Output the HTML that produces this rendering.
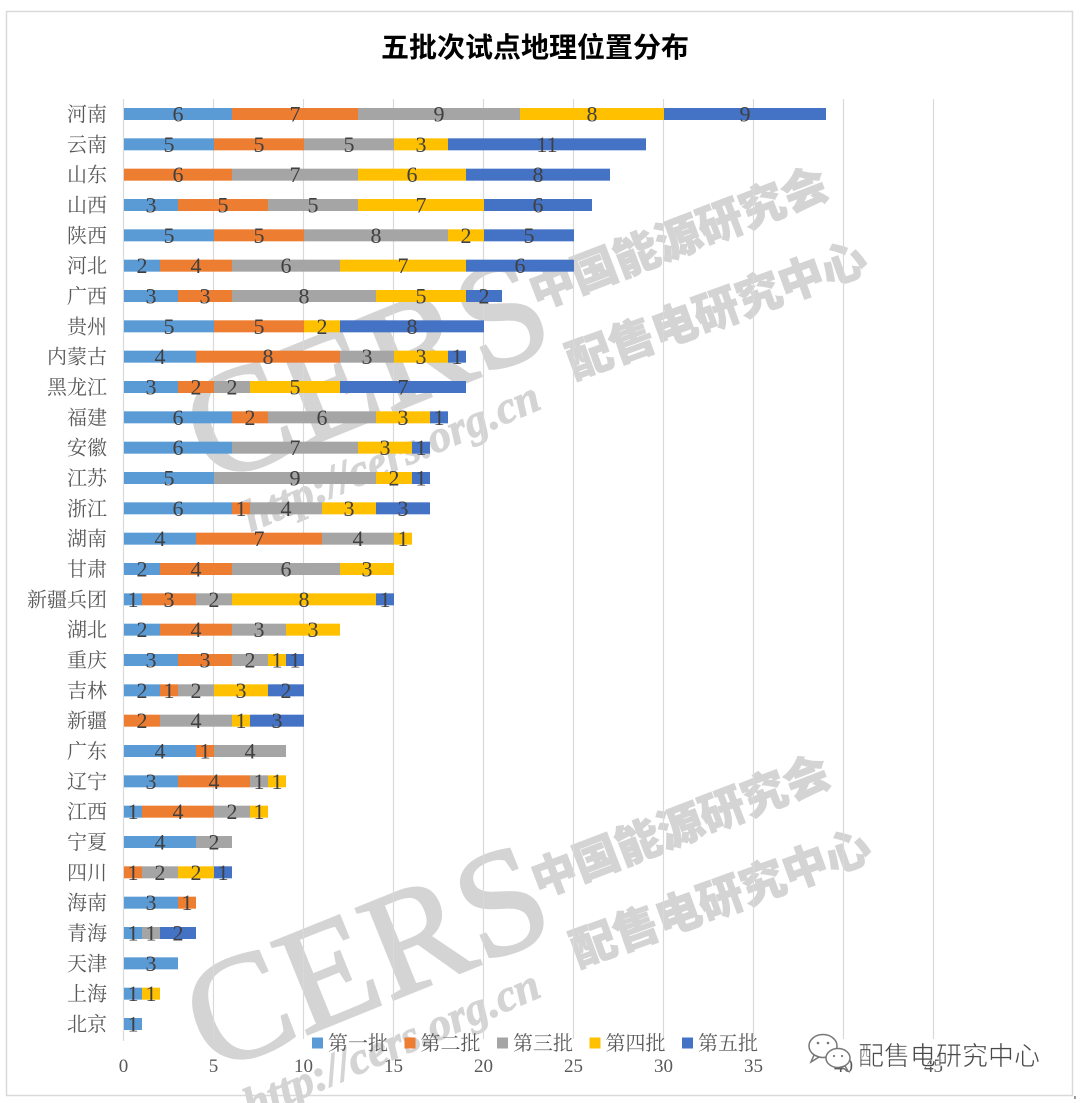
<!DOCTYPE html>
<html>
<head>
<meta charset="utf-8">
<style>
html,body{margin:0;padding:0;background:#fff;}
svg{display:block;}
.s1{fill:#5B9BD5}.s2{fill:#ED7D31}.s3{fill:#A5A5A5}.s4{fill:#FFC000}.s5{fill:#4472C4}
.cat{font-family:"Liberation Serif","Noto Serif CJK SC",serif;font-size:20px;fill:#595959;text-anchor:end;}
.dl{font-family:"Liberation Serif","Noto Serif CJK SC",serif;font-size:22px;fill:#404040;text-anchor:middle;}
.tk{font-family:"Liberation Serif",serif;font-size:19px;fill:#595959;text-anchor:middle;}
.lg{font-family:"Liberation Serif","Noto Serif CJK SC",serif;font-size:20px;fill:#595959;}
</style>
</head>
<body>
<svg width="1080" height="1103" viewBox="0 0 1080 1103" xmlns="http://www.w3.org/2000/svg">
<rect x="0" y="0" width="1080" height="1103" fill="#fff"/>
<rect x="6.5" y="11.5" width="1066" height="1084" fill="#fff" stroke="#d9d9d9" stroke-width="1.5"/>

<text x="535" y="57" text-anchor="middle" style="font-family:'Liberation Sans','Noto Sans CJK SC',sans-serif;font-size:28px;font-weight:bold;fill:#000;">五批次试点地理位置分布</text>

<!-- watermarks (behind chart) -->
<g fill="#d4d4d4" stroke="#d4d4d4">
<text transform="translate(385,415) rotate(-22)" text-anchor="middle" stroke-width="2.5" style="font-family:'Liberation Serif',serif;font-size:150px;">CERS</text>
<text transform="translate(397,470) rotate(-23)" text-anchor="middle" stroke-width="1" style="font-family:'Liberation Serif',serif;font-size:45px;font-weight:bold;font-style:italic;">http://cers.org.cn</text>
<text transform="translate(684,253) rotate(-21)" text-anchor="middle" stroke-width="1" style="font-family:'Liberation Sans','Noto Sans CJK SC',sans-serif;font-size:45px;font-weight:900;">中国能源研究会</text>
<text transform="translate(722,325) rotate(-20)" text-anchor="middle" stroke-width="1" style="font-family:'Liberation Sans','Noto Sans CJK SC',sans-serif;font-size:45px;font-weight:900;">配售电研究中心</text>

<text transform="translate(385,1003) rotate(-22)" text-anchor="middle" stroke-width="2.5" style="font-family:'Liberation Serif',serif;font-size:150px;">CERS</text>
<text transform="translate(397,1058) rotate(-23)" text-anchor="middle" stroke-width="1" style="font-family:'Liberation Serif',serif;font-size:45px;font-weight:bold;font-style:italic;">http://cers.org.cn</text>
<text transform="translate(686,841) rotate(-21)" text-anchor="middle" stroke-width="1" style="font-family:'Liberation Sans','Noto Sans CJK SC',sans-serif;font-size:45px;font-weight:900;">中国能源研究会</text>
<text transform="translate(726,913) rotate(-20)" text-anchor="middle" stroke-width="1" style="font-family:'Liberation Sans','Noto Sans CJK SC',sans-serif;font-size:45px;font-weight:900;">配售电研究中心</text>
</g>

<!-- gridlines -->
<g stroke="#d9d9d9" stroke-width="1.2">
<line x1="213.5" y1="99" x2="213.5" y2="1039"/>
<line x1="303.5" y1="99" x2="303.5" y2="1039"/>
<line x1="393.5" y1="99" x2="393.5" y2="1039"/>
<line x1="483.5" y1="99" x2="483.5" y2="1039"/>
<line x1="573.5" y1="99" x2="573.5" y2="1039"/>
<line x1="663.5" y1="99" x2="663.5" y2="1039"/>
<line x1="753.5" y1="99" x2="753.5" y2="1039"/>
<line x1="843.5" y1="99" x2="843.5" y2="1039"/>
<line x1="933.5" y1="99" x2="933.5" y2="1039"/>
<line x1="123.5" y1="99" x2="123.5" y2="1041"/>
</g>

<!-- rows -->
<g transform="translate(0,114)"><text class="cat" x="107" y="7">河南</text>
<rect class="s1" x="124" y="-6" width="108" height="12"/><rect class="s2" x="232" y="-6" width="126" height="12"/><rect class="s3" x="358" y="-6" width="162" height="12"/><rect class="s4" x="520" y="-6" width="144" height="12"/><rect class="s5" x="664" y="-6" width="162" height="12"/>
<text class="dl" x="178" y="7.5">6</text><text class="dl" x="295" y="7.5">7</text><text class="dl" x="439" y="7.5">9</text><text class="dl" x="592" y="7.5">8</text><text class="dl" x="745" y="7.5">9</text></g>

<g transform="translate(0,144.33)"><text class="cat" x="107" y="7">云南</text>
<rect class="s1" x="124" y="-6" width="90" height="12"/><rect class="s2" x="214" y="-6" width="90" height="12"/><rect class="s3" x="304" y="-6" width="90" height="12"/><rect class="s4" x="394" y="-6" width="54" height="12"/><rect class="s5" x="448" y="-6" width="198" height="12"/>
<text class="dl" x="169" y="7.5">5</text><text class="dl" x="259" y="7.5">5</text><text class="dl" x="349" y="7.5">5</text><text class="dl" x="421" y="7.5">3</text><text class="dl" x="547" y="7.5">11</text></g>

<g transform="translate(0,174.67)"><text class="cat" x="107" y="7">山东</text>
<rect class="s2" x="124" y="-6" width="108" height="12"/><rect class="s3" x="232" y="-6" width="126" height="12"/><rect class="s4" x="358" y="-6" width="108" height="12"/><rect class="s5" x="466" y="-6" width="144" height="12"/>
<text class="dl" x="178" y="7.5">6</text><text class="dl" x="295" y="7.5">7</text><text class="dl" x="412" y="7.5">6</text><text class="dl" x="538" y="7.5">8</text></g>

<g transform="translate(0,205)"><text class="cat" x="107" y="7">山西</text>
<rect class="s1" x="124" y="-6" width="54" height="12"/><rect class="s2" x="178" y="-6" width="90" height="12"/><rect class="s3" x="268" y="-6" width="90" height="12"/><rect class="s4" x="358" y="-6" width="126" height="12"/><rect class="s5" x="484" y="-6" width="108" height="12"/>
<text class="dl" x="151" y="7.5">3</text><text class="dl" x="223" y="7.5">5</text><text class="dl" x="313" y="7.5">5</text><text class="dl" x="421" y="7.5">7</text><text class="dl" x="538" y="7.5">6</text></g>

<g transform="translate(0,235.33)"><text class="cat" x="107" y="7">陕西</text>
<rect class="s1" x="124" y="-6" width="90" height="12"/><rect class="s2" x="214" y="-6" width="90" height="12"/><rect class="s3" x="304" y="-6" width="144" height="12"/><rect class="s4" x="448" y="-6" width="36" height="12"/><rect class="s5" x="484" y="-6" width="90" height="12"/>
<text class="dl" x="169" y="7.5">5</text><text class="dl" x="259" y="7.5">5</text><text class="dl" x="376" y="7.5">8</text><text class="dl" x="466" y="7.5">2</text><text class="dl" x="529" y="7.5">5</text></g>

<g transform="translate(0,265.67)"><text class="cat" x="107" y="7">河北</text>
<rect class="s1" x="124" y="-6" width="36" height="12"/><rect class="s2" x="160" y="-6" width="72" height="12"/><rect class="s3" x="232" y="-6" width="108" height="12"/><rect class="s4" x="340" y="-6" width="126" height="12"/><rect class="s5" x="466" y="-6" width="108" height="12"/>
<text class="dl" x="142" y="7.5">2</text><text class="dl" x="196" y="7.5">4</text><text class="dl" x="286" y="7.5">6</text><text class="dl" x="403" y="7.5">7</text><text class="dl" x="520" y="7.5">6</text></g>

<g transform="translate(0,296)"><text class="cat" x="107" y="7">广西</text>
<rect class="s1" x="124" y="-6" width="54" height="12"/><rect class="s2" x="178" y="-6" width="54" height="12"/><rect class="s3" x="232" y="-6" width="144" height="12"/><rect class="s4" x="376" y="-6" width="90" height="12"/><rect class="s5" x="466" y="-6" width="36" height="12"/>
<text class="dl" x="151" y="7.5">3</text><text class="dl" x="205" y="7.5">3</text><text class="dl" x="304" y="7.5">8</text><text class="dl" x="421" y="7.5">5</text><text class="dl" x="484" y="7.5">2</text></g>

<g transform="translate(0,326.33)"><text class="cat" x="107" y="7">贵州</text>
<rect class="s1" x="124" y="-6" width="90" height="12"/><rect class="s2" x="214" y="-6" width="90" height="12"/><rect class="s4" x="304" y="-6" width="36" height="12"/><rect class="s5" x="340" y="-6" width="144" height="12"/>
<text class="dl" x="169" y="7.5">5</text><text class="dl" x="259" y="7.5">5</text><text class="dl" x="322" y="7.5">2</text><text class="dl" x="412" y="7.5">8</text></g>

<g transform="translate(0,356.67)"><text class="cat" x="107" y="7">内蒙古</text>
<rect class="s1" x="124" y="-6" width="72" height="12"/><rect class="s2" x="196" y="-6" width="144" height="12"/><rect class="s3" x="340" y="-6" width="54" height="12"/><rect class="s4" x="394" y="-6" width="54" height="12"/><rect class="s5" x="448" y="-6" width="18" height="12"/>
<text class="dl" x="160" y="7.5">4</text><text class="dl" x="268" y="7.5">8</text><text class="dl" x="367" y="7.5">3</text><text class="dl" x="421" y="7.5">3</text><text class="dl" x="457" y="7.5">1</text></g>

<g transform="translate(0,387)"><text class="cat" x="107" y="7">黑龙江</text>
<rect class="s1" x="124" y="-6" width="54" height="12"/><rect class="s2" x="178" y="-6" width="36" height="12"/><rect class="s3" x="214" y="-6" width="36" height="12"/><rect class="s4" x="250" y="-6" width="90" height="12"/><rect class="s5" x="340" y="-6" width="126" height="12"/>
<text class="dl" x="151" y="7.5">3</text><text class="dl" x="196" y="7.5">2</text><text class="dl" x="232" y="7.5">2</text><text class="dl" x="295" y="7.5">5</text><text class="dl" x="403" y="7.5">7</text></g>

<g transform="translate(0,417.33)"><text class="cat" x="107" y="7">福建</text>
<rect class="s1" x="124" y="-6" width="108" height="12"/><rect class="s2" x="232" y="-6" width="36" height="12"/><rect class="s3" x="268" y="-6" width="108" height="12"/><rect class="s4" x="376" y="-6" width="54" height="12"/><rect class="s5" x="430" y="-6" width="18" height="12"/>
<text class="dl" x="178" y="7.5">6</text><text class="dl" x="250" y="7.5">2</text><text class="dl" x="322" y="7.5">6</text><text class="dl" x="403" y="7.5">3</text><text class="dl" x="439" y="7.5">1</text></g>

<g transform="translate(0,447.67)"><text class="cat" x="107" y="7">安徽</text>
<rect class="s1" x="124" y="-6" width="108" height="12"/><rect class="s3" x="232" y="-6" width="126" height="12"/><rect class="s4" x="358" y="-6" width="54" height="12"/><rect class="s5" x="412" y="-6" width="18" height="12"/>
<text class="dl" x="178" y="7.5">6</text><text class="dl" x="295" y="7.5">7</text><text class="dl" x="385" y="7.5">3</text><text class="dl" x="421" y="7.5">1</text></g>

<g transform="translate(0,478)"><text class="cat" x="107" y="7">江苏</text>
<rect class="s1" x="124" y="-6" width="90" height="12"/><rect class="s3" x="214" y="-6" width="162" height="12"/><rect class="s4" x="376" y="-6" width="36" height="12"/><rect class="s5" x="412" y="-6" width="18" height="12"/>
<text class="dl" x="169" y="7.5">5</text><text class="dl" x="295" y="7.5">9</text><text class="dl" x="394" y="7.5">2</text><text class="dl" x="421" y="7.5">1</text></g>

<g transform="translate(0,508.33)"><text class="cat" x="107" y="7">浙江</text>
<rect class="s1" x="124" y="-6" width="108" height="12"/><rect class="s2" x="232" y="-6" width="18" height="12"/><rect class="s3" x="250" y="-6" width="72" height="12"/><rect class="s4" x="322" y="-6" width="54" height="12"/><rect class="s5" x="376" y="-6" width="54" height="12"/>
<text class="dl" x="178" y="7.5">6</text><text class="dl" x="241" y="7.5">1</text><text class="dl" x="286" y="7.5">4</text><text class="dl" x="349" y="7.5">3</text><text class="dl" x="403" y="7.5">3</text></g>

<g transform="translate(0,538.67)"><text class="cat" x="107" y="7">湖南</text>
<rect class="s1" x="124" y="-6" width="72" height="12"/><rect class="s2" x="196" y="-6" width="126" height="12"/><rect class="s3" x="322" y="-6" width="72" height="12"/><rect class="s4" x="394" y="-6" width="18" height="12"/>
<text class="dl" x="160" y="7.5">4</text><text class="dl" x="259" y="7.5">7</text><text class="dl" x="358" y="7.5">4</text><text class="dl" x="403" y="7.5">1</text></g>

<g transform="translate(0,569)"><text class="cat" x="107" y="7">甘肃</text>
<rect class="s1" x="124" y="-6" width="36" height="12"/><rect class="s2" x="160" y="-6" width="72" height="12"/><rect class="s3" x="232" y="-6" width="108" height="12"/><rect class="s4" x="340" y="-6" width="54" height="12"/>
<text class="dl" x="142" y="7.5">2</text><text class="dl" x="196" y="7.5">4</text><text class="dl" x="286" y="7.5">6</text><text class="dl" x="367" y="7.5">3</text></g>

<g transform="translate(0,599.33)"><text class="cat" x="107" y="7">新疆兵团</text>
<rect class="s1" x="124" y="-6" width="18" height="12"/><rect class="s2" x="142" y="-6" width="54" height="12"/><rect class="s3" x="196" y="-6" width="36" height="12"/><rect class="s4" x="232" y="-6" width="144" height="12"/><rect class="s5" x="376" y="-6" width="18" height="12"/>
<text class="dl" x="133" y="7.5">1</text><text class="dl" x="169" y="7.5">3</text><text class="dl" x="214" y="7.5">2</text><text class="dl" x="304" y="7.5">8</text><text class="dl" x="385" y="7.5">1</text></g>

<g transform="translate(0,629.67)"><text class="cat" x="107" y="7">湖北</text>
<rect class="s1" x="124" y="-6" width="36" height="12"/><rect class="s2" x="160" y="-6" width="72" height="12"/><rect class="s3" x="232" y="-6" width="54" height="12"/><rect class="s4" x="286" y="-6" width="54" height="12"/>
<text class="dl" x="142" y="7.5">2</text><text class="dl" x="196" y="7.5">4</text><text class="dl" x="259" y="7.5">3</text><text class="dl" x="313" y="7.5">3</text></g>

<g transform="translate(0,660)"><text class="cat" x="107" y="7">重庆</text>
<rect class="s1" x="124" y="-6" width="54" height="12"/><rect class="s2" x="178" y="-6" width="54" height="12"/><rect class="s3" x="232" y="-6" width="36" height="12"/><rect class="s4" x="268" y="-6" width="18" height="12"/><rect class="s5" x="286" y="-6" width="18" height="12"/>
<text class="dl" x="151" y="7.5">3</text><text class="dl" x="205" y="7.5">3</text><text class="dl" x="250" y="7.5">2</text><text class="dl" x="277" y="7.5">1</text><text class="dl" x="295" y="7.5">1</text></g>

<g transform="translate(0,690.33)"><text class="cat" x="107" y="7">吉林</text>
<rect class="s1" x="124" y="-6" width="36" height="12"/><rect class="s2" x="160" y="-6" width="18" height="12"/><rect class="s3" x="178" y="-6" width="36" height="12"/><rect class="s4" x="214" y="-6" width="54" height="12"/><rect class="s5" x="268" y="-6" width="36" height="12"/>
<text class="dl" x="142" y="7.5">2</text><text class="dl" x="169" y="7.5">1</text><text class="dl" x="196" y="7.5">2</text><text class="dl" x="241" y="7.5">3</text><text class="dl" x="286" y="7.5">2</text></g>

<g transform="translate(0,720.67)"><text class="cat" x="107" y="7">新疆</text>
<rect class="s2" x="124" y="-6" width="36" height="12"/><rect class="s3" x="160" y="-6" width="72" height="12"/><rect class="s4" x="232" y="-6" width="18" height="12"/><rect class="s5" x="250" y="-6" width="54" height="12"/>
<text class="dl" x="142" y="7.5">2</text><text class="dl" x="196" y="7.5">4</text><text class="dl" x="241" y="7.5">1</text><text class="dl" x="277" y="7.5">3</text></g>

<g transform="translate(0,751)"><text class="cat" x="107" y="7">广东</text>
<rect class="s1" x="124" y="-6" width="72" height="12"/><rect class="s2" x="196" y="-6" width="18" height="12"/><rect class="s3" x="214" y="-6" width="72" height="12"/>
<text class="dl" x="160" y="7.5">4</text><text class="dl" x="205" y="7.5">1</text><text class="dl" x="250" y="7.5">4</text></g>

<g transform="translate(0,781.33)"><text class="cat" x="107" y="7">辽宁</text>
<rect class="s1" x="124" y="-6" width="54" height="12"/><rect class="s2" x="178" y="-6" width="72" height="12"/><rect class="s3" x="250" y="-6" width="18" height="12"/><rect class="s4" x="268" y="-6" width="18" height="12"/>
<text class="dl" x="151" y="7.5">3</text><text class="dl" x="214" y="7.5">4</text><text class="dl" x="259" y="7.5">1</text><text class="dl" x="277" y="7.5">1</text></g>

<g transform="translate(0,811.67)"><text class="cat" x="107" y="7">江西</text>
<rect class="s1" x="124" y="-6" width="18" height="12"/><rect class="s2" x="142" y="-6" width="72" height="12"/><rect class="s3" x="214" y="-6" width="36" height="12"/><rect class="s4" x="250" y="-6" width="18" height="12"/>
<text class="dl" x="133" y="7.5">1</text><text class="dl" x="178" y="7.5">4</text><text class="dl" x="232" y="7.5">2</text><text class="dl" x="259" y="7.5">1</text></g>

<g transform="translate(0,842)"><text class="cat" x="107" y="7">宁夏</text>
<rect class="s1" x="124" y="-6" width="72" height="12"/><rect class="s3" x="196" y="-6" width="36" height="12"/>
<text class="dl" x="160" y="7.5">4</text><text class="dl" x="214" y="7.5">2</text></g>

<g transform="translate(0,872.33)"><text class="cat" x="107" y="7">四川</text>
<rect class="s2" x="124" y="-6" width="18" height="12"/><rect class="s3" x="142" y="-6" width="36" height="12"/><rect class="s4" x="178" y="-6" width="36" height="12"/><rect class="s5" x="214" y="-6" width="18" height="12"/>
<text class="dl" x="133" y="7.5">1</text><text class="dl" x="160" y="7.5">2</text><text class="dl" x="196" y="7.5">2</text><text class="dl" x="223" y="7.5">1</text></g>

<g transform="translate(0,902.67)"><text class="cat" x="107" y="7">海南</text>
<rect class="s1" x="124" y="-6" width="54" height="12"/><rect class="s2" x="178" y="-6" width="18" height="12"/>
<text class="dl" x="151" y="7.5">3</text><text class="dl" x="187" y="7.5">1</text></g>

<g transform="translate(0,933)"><text class="cat" x="107" y="7">青海</text>
<rect class="s1" x="124" y="-6" width="18" height="12"/><rect class="s3" x="142" y="-6" width="18" height="12"/><rect class="s5" x="160" y="-6" width="36" height="12"/>
<text class="dl" x="133" y="7.5">1</text><text class="dl" x="151" y="7.5">1</text><text class="dl" x="178" y="7.5">2</text></g>

<g transform="translate(0,963.33)"><text class="cat" x="107" y="7">天津</text>
<rect class="s1" x="124" y="-6" width="54" height="12"/>
<text class="dl" x="151" y="7.5">3</text></g>

<g transform="translate(0,993.67)"><text class="cat" x="107" y="7">上海</text>
<rect class="s1" x="124" y="-6" width="18" height="12"/><rect class="s4" x="142" y="-6" width="18" height="12"/>
<text class="dl" x="133" y="7.5">1</text><text class="dl" x="151" y="7.5">1</text></g>

<g transform="translate(0,1024)"><text class="cat" x="107" y="7">北京</text>
<rect class="s1" x="124" y="-6" width="18" height="12"/>
<text class="dl" x="133" y="7.5">1</text></g>

<!-- x tick labels -->
<text class="tk" x="123.5" y="1072">0</text>
<text class="tk" x="213.5" y="1072">5</text>
<text class="tk" x="303.5" y="1072">10</text>
<text class="tk" x="393.5" y="1072">15</text>
<text class="tk" x="483.5" y="1072">20</text>
<text class="tk" x="573.5" y="1072">25</text>
<text class="tk" x="663.5" y="1072">30</text>
<text class="tk" x="753.5" y="1072">35</text>
<text class="tk" x="843.5" y="1072">40</text>
<text class="tk" x="933.5" y="1072">45</text>

<!-- legend -->
<rect class="s1" x="312" y="1037.5" width="11" height="11"/><text class="lg" x="328" y="1050">第一批</text>
<rect class="s2" x="404.5" y="1037.5" width="11" height="11"/><text class="lg" x="420.5" y="1050">第二批</text>
<rect class="s3" x="497" y="1037.5" width="11" height="11"/><text class="lg" x="513" y="1050">第三批</text>
<rect class="s4" x="589.5" y="1037.5" width="11" height="11"/><text class="lg" x="605.5" y="1050">第四批</text>
<rect class="s5" x="682" y="1037.5" width="11" height="11"/><text class="lg" x="698" y="1050">第五批</text>

<!-- wechat mark -->
<g stroke="#777" stroke-width="1.5" fill="#fff">
<ellipse cx="823" cy="1046" rx="14" ry="11.5"/>
<path d="M814 1055 L811 1062 L819 1057 Z"/>
<ellipse cx="838" cy="1058" rx="12" ry="9.5"/>
<path d="M845 1066 L848 1071 L841 1067 Z"/>
</g>
<g fill="#777">
<circle cx="818" cy="1043" r="1.3"/><circle cx="828" cy="1043" r="1.3"/>
<circle cx="834" cy="1056" r="1.1"/><circle cx="842" cy="1056" r="1.1"/>
</g>
<text x="858" y="1065" style="font-family:'Liberation Sans','Noto Sans CJK SC',sans-serif;font-size:26px;fill:#4a4a4a;stroke:#fff;stroke-width:0.6;">配售电研究中心</text>

<rect x="1074" y="1096" width="2" height="3" fill="#999"/>
</svg>
</body>
</html>
